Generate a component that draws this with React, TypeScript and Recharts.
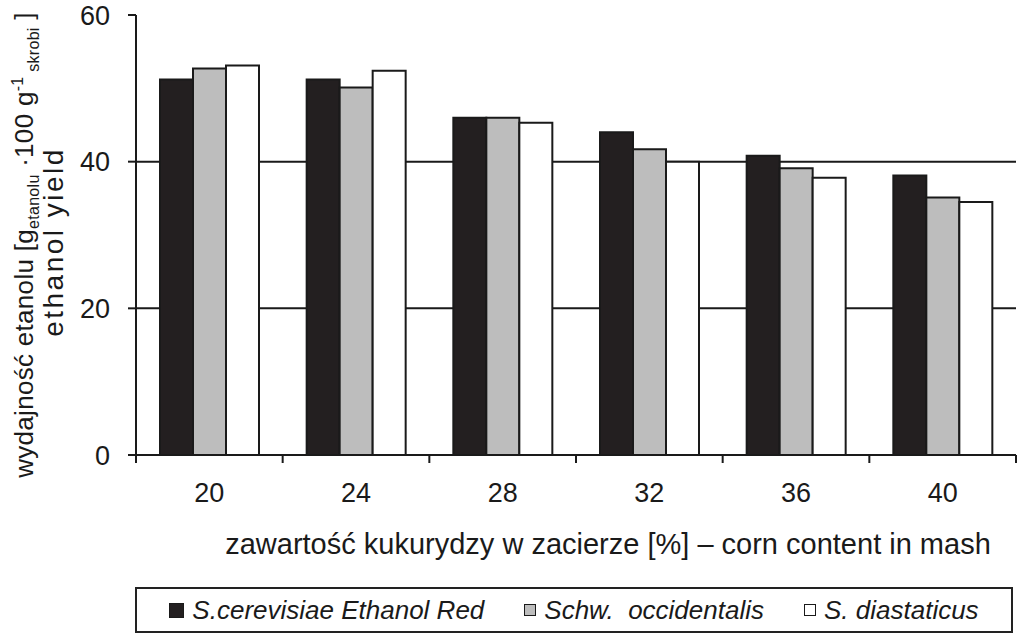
import React from 'react';
import { BarChart, Bar, XAxis, YAxis, CartesianGrid, Legend } from 'recharts';

const categories = ['20', '24', '28', '32', '36', '40'];
const cerevisiae = [51.2, 51.2, 46.0, 44.0, 40.8, 38.1];
const occidentalis = [52.7, 50.1, 46.0, 41.7, 39.1, 35.1];
const diastaticus = [53.1, 52.4, 45.3, 40.0, 37.8, 34.5];
const yTicks = [0, 20, 40, 60];
const seriesNames = ['S.cerevisiae Ethanol Red', 'Schw.  occidentalis', 'S. diastaticus'];
const seriesColors = ['#231f20', '#bdbdbd', '#ffffff'];

const data = categories.map((c, i) => ({
  cat: c,
  s1: cerevisiae[i],
  s2: occidentalis[i],
  s3: diastaticus[i],
}));

const FONT = '"Liberation Sans", Arial, sans-serif';

const XTick = (props: any) => {
  const { x, y, payload, index, visibleTicksCount, width } = props;
  const half = payload && typeof payload.offset === 'number' && payload.offset > 0
    ? payload.offset
    : width / visibleTicksCount / 2;
  const isLast = index === visibleTicksCount - 1;
  return (
    <g>
      <line x1={x - half} y1={y} x2={x - half} y2={y + 8} stroke="#1a1a1a" strokeWidth={2} />
      {isLast && <line x1={x + half} y1={y} x2={x + half} y2={y + 8} stroke="#1a1a1a" strokeWidth={2} />}
      <text x={x} y={y + 47} textAnchor="middle" fontFamily={FONT} fontSize={27} fill="#1a1a1a">
        {payload.value}
      </text>
    </g>
  );
};

const YLabel = (props: any) => {
  const vb = props.viewBox || { x: 0, y: 15, width: 136, height: 440 };
  const cy1 = vb.y + vb.height / 2 + 10;
  const cy2 = vb.y + vb.height / 2 + 7;
  const x1 = vb.x + 33;
  const x2 = vb.x + 63;
  return (
    <g fontFamily={FONT} fill="#1a1a1a">
      <text x={x1} y={cy1} transform={`rotate(-90, ${x1}, ${cy1})`} textAnchor="middle" fontSize={26} letterSpacing={0.3}>
        <tspan>wydajność etanolu [g</tspan>
        <tspan fontSize={16} dy={6}>etanolu</tspan>
        <tspan dy={-6}> ·100 g</tspan>
        <tspan fontSize={16} dy={-10}>-1</tspan>
        <tspan fontSize={16} dy={16}> skrobi</tspan>
        <tspan dy={-6}> ]</tspan>
      </text>
      <text x={x2} y={cy2} transform={`rotate(-90, ${x2}, ${cy2})`} textAnchor="middle" fontSize={28} letterSpacing={2.5}>
        ethanol yield
      </text>
    </g>
  );
};

const XLabel = (props: any) => {
  const vb = props.viewBox || { x: 136, y: 455, width: 880, height: 40 };
  const cx = vb.x + vb.width / 2 + 32;
  return (
    <text x={cx} y={vb.y + 99} textAnchor="middle" fontFamily={FONT} fontSize={29} fill="#1a1a1a">
      zawartość kukurydzy w zacierze [%] – corn content in mash
    </text>
  );
};

const LegendContent = () => (
  <div
    style={{
      boxSizing: 'border-box',
      width: '100%',
      height: '100%',
      border: '2px solid #222',
      display: 'flex',
      alignItems: 'center',
      justifyContent: 'center',
      gap: 40,
      fontFamily: FONT,
      fontStyle: 'italic',
      fontSize: 26,
      color: '#1a1a1a',
      whiteSpace: 'pre',
    }}
  >
    {seriesNames.map((name, i) => (
      <div key={name} style={{ display: 'flex', alignItems: 'center' }}>
        <span
          style={{
            display: 'inline-block',
            width: i === 0 ? 15 : 12,
            height: i === 0 ? 15 : 12,
            background: seriesColors[i],
            border: '1.5px solid #1a1a1a',
            marginRight: 8,
            boxSizing: 'border-box',
          }}
        />
        <span>{name}</span>
      </div>
    ))}
  </div>
);

export default function App() {
  return (
    <div style={{ position: 'absolute', left: 0, top: 0, background: '#fff' }}>
      <BarChart
        width={1024}
        height={643}
        data={data}
        margin={{ top: 15, right: 8, left: 0, bottom: 148 }}
        barGap={0}
      >
        <CartesianGrid vertical={false} horizontalValues={[20, 40]} stroke="#1a1a1a" strokeWidth={2} />
        <XAxis
          dataKey="cat"
          height={40}
          axisLine={{ stroke: '#1a1a1a', strokeWidth: 2 }}
          tickLine={false}
          tickSize={0}
          tickMargin={0}
          tick={<XTick />}
          interval={0}
          label={<XLabel />}
        />
        <XAxis
          xAxisId="top"
          dataKey="cat"
          orientation="top"
          height={0}
          tick={false}
          tickLine={false}
          axisLine={{ stroke: '#8c8c8c', strokeWidth: 2 }}
        />
        <YAxis
          domain={[0, 60]}
          ticks={yTicks}
          width={136}
          axisLine={{ stroke: '#1a1a1a', strokeWidth: 2 }}
          tickLine={{ stroke: '#1a1a1a', strokeWidth: 2 }}
          tickSize={8}
          tickMargin={18}
          tick={{ fontFamily: FONT, fontSize: 27, fill: '#1a1a1a' }}
          label={<YLabel />}
        />
        <YAxis
          yAxisId="right"
          orientation="right"
          domain={[0, 60]}
          width={0}
          tick={false}
          tickLine={false}
          axisLine={{ stroke: '#8c8c8c', strokeWidth: 2 }}
        />
        <Legend
          layout="horizontal"
          verticalAlign="middle"
          align="center"
          wrapperStyle={{ position: 'absolute', top: 587, left: 135, width: 878, height: 46 }}
          content={<LegendContent />}
        />
        <Bar dataKey="s1" name={seriesNames[0]} fill={seriesColors[0]} stroke="#1a1a1a" strokeWidth={2} barSize={33} isAnimationActive={false} />
        <Bar dataKey="s2" name={seriesNames[1]} fill={seriesColors[1]} stroke="#1a1a1a" strokeWidth={2} barSize={33} isAnimationActive={false} />
        <Bar dataKey="s3" name={seriesNames[2]} fill={seriesColors[2]} stroke="#1a1a1a" strokeWidth={2} barSize={33} isAnimationActive={false} />
      </BarChart>
    </div>
  );
}
